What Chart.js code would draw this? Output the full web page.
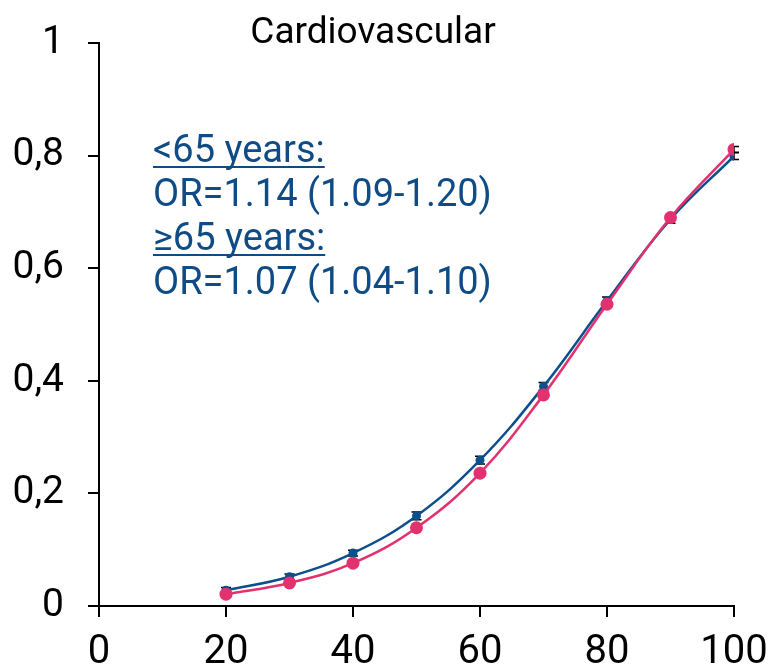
<!DOCTYPE html>
<html>
<head>
<meta charset="utf-8">
<script src="https://cdn.jsdelivr.net/npm/chart.js@4"></script>
<style>
  html, body { margin: 0; padding: 0; background: #fff; }
  #wrap { width: 768px; height: 670px; }
</style>
</head>
<body>
<div id="wrap"><canvas id="chart"></canvas></div>
<script>
const xValues = [20, 30, 40, 50, 60, 70, 80, 90, 100];
const under65 = [0.028, 0.052, 0.094, 0.160, 0.259, 0.390, 0.542, 0.687, 0.799];
const under65Err = [0.005, 0.005, 0.005, 0.007, 0.007, 0.007, 0.007, 0.007, 0.006];
const over65 = [0.021, 0.041, 0.076, 0.139, 0.236, 0.375, 0.536, 0.690, 0.811];
const over65Err = [0.003, 0.003, 0.004, 0.004, 0.004, 0.005, 0.005, 0.004, 0.005];
const yTicks = [0, 0.2, 0.4, 0.6, 0.8, 1];
const xTicks = [0, 20, 40, 60, 80, 100];
const title = 'Cardiovascular';
const notes = [
  { text: '<65 years:', underline: true },
  { text: 'OR=1.14 (1.09-1.20)', underline: false },
  { text: '\u226565 years:', underline: true },
  { text: 'OR=1.07 (1.04-1.10)', underline: false }
];

const blue = '#0b4f8c';
const pink = '#e3306f';
const textBlue = '#0f4c86';

function toPoints(ys) {
  return xValues.map((x, i) => ({ x: x, y: ys[i] }));
}

// error bars (under the markers) + title + annotation text
const extras = {
  id: 'extras',
  beforeDatasetsDraw(chart) {
    const ctx = chart.ctx;
    const xs = chart.scales.x, ys = chart.scales.y;
    ctx.save();
    ctx.strokeStyle = '#000';
    ctx.lineWidth = 1.5;
    [[over65, over65Err], [under65, under65Err]].forEach(([vals, errs]) => {
      vals.forEach((v, i) => {
        const px = xs.getPixelForValue(xValues[i]);
        const top = ys.getPixelForValue(v + errs[i]);
        const bot = ys.getPixelForValue(v - errs[i]);
        ctx.beginPath();
        ctx.moveTo(px, top); ctx.lineTo(px, bot);
        ctx.moveTo(px - 5, top); ctx.lineTo(px + 5, top);
        ctx.moveTo(px - 5, bot); ctx.lineTo(px + 5, bot);
        ctx.stroke();
      });
    });
    ctx.restore();
  },
  afterDraw(chart) {
    const ctx = chart.ctx;
    ctx.save();
    ctx.fillStyle = '#000';
    ctx.font = '37px Roboto';
    ctx.textAlign = 'center';
    ctx.textBaseline = 'alphabetic';
    ctx.fillText(title, 373, 43);

    ctx.font = '38px Roboto';
    ctx.textAlign = 'left';
    ctx.fillStyle = textBlue;
    ctx.strokeStyle = textBlue;
    ctx.lineWidth = 2;
    notes.forEach((n, i) => {
      const y = 162 + i * 44;
      ctx.fillText(n.text, 153, y);
      if (n.underline) {
        const w = ctx.measureText(n.text).width;
        ctx.beginPath();
        ctx.moveTo(153, y + 5);
        ctx.lineTo(153 + w, y + 5);
        ctx.stroke();
      }
    });
    ctx.restore();
  }
};

new Chart(document.getElementById('chart'), {
  type: 'line',
  data: {
    datasets: [
      {
        label: '>=65 years',
        data: toPoints(over65),
        borderColor: pink,
        backgroundColor: pink,
        borderWidth: 2.5,
        pointRadius: 6.5,
        pointBorderWidth: 0,
        tension: 0.4
      },
      {
        label: '<65 years',
        data: toPoints(under65),
        borderColor: blue,
        backgroundColor: blue,
        borderWidth: 2.5,
        pointRadius: 4.5,
        pointBorderWidth: 0,
        tension: 0.4
      }
    ]
  },
  options: {
    responsive: true,
    maintainAspectRatio: false,
    animation: false,
    layout: { padding: { top: 43, right: 34, left: 0, bottom: 0 } },
    plugins: {
      legend: { display: false },
      tooltip: { enabled: false }
    },
    scales: {
      x: {
        type: 'linear',
        min: 0,
        max: 100,
        afterBuildTicks: (s) => { s.ticks = xTicks.map(v => ({ value: v })); },
        afterFit: (s) => { s.height = 64; s.paddingLeft = 0; s.paddingRight = 0; },
        grid: { drawOnChartArea: false, tickLength: 11, color: '#000', lineWidth: 2 },
        border: { color: '#000', width: 2 },
        ticks: { color: '#000', font: { family: 'Roboto', size: 40 }, padding: 12, maxRotation: 0 }
      },
      y: {
        min: 0,
        max: 1,
        afterBuildTicks: (s) => { s.ticks = yTicks.map(v => ({ value: v })); },
        afterFit: (s) => { s.width = 99; s.paddingTop = 0; s.paddingBottom = 0; },
        grid: { drawOnChartArea: false, tickLength: 11, color: '#000', lineWidth: 2 },
        border: { color: '#000', width: 2 },
        ticks: {
          color: '#000',
          font: { family: 'Roboto', size: 39 },
          padding: 24,
          callback: (v) => String(v).replace('.', ',')
        }
      }
    }
  },
  plugins: [extras]
});
</script>
</body>
</html>
